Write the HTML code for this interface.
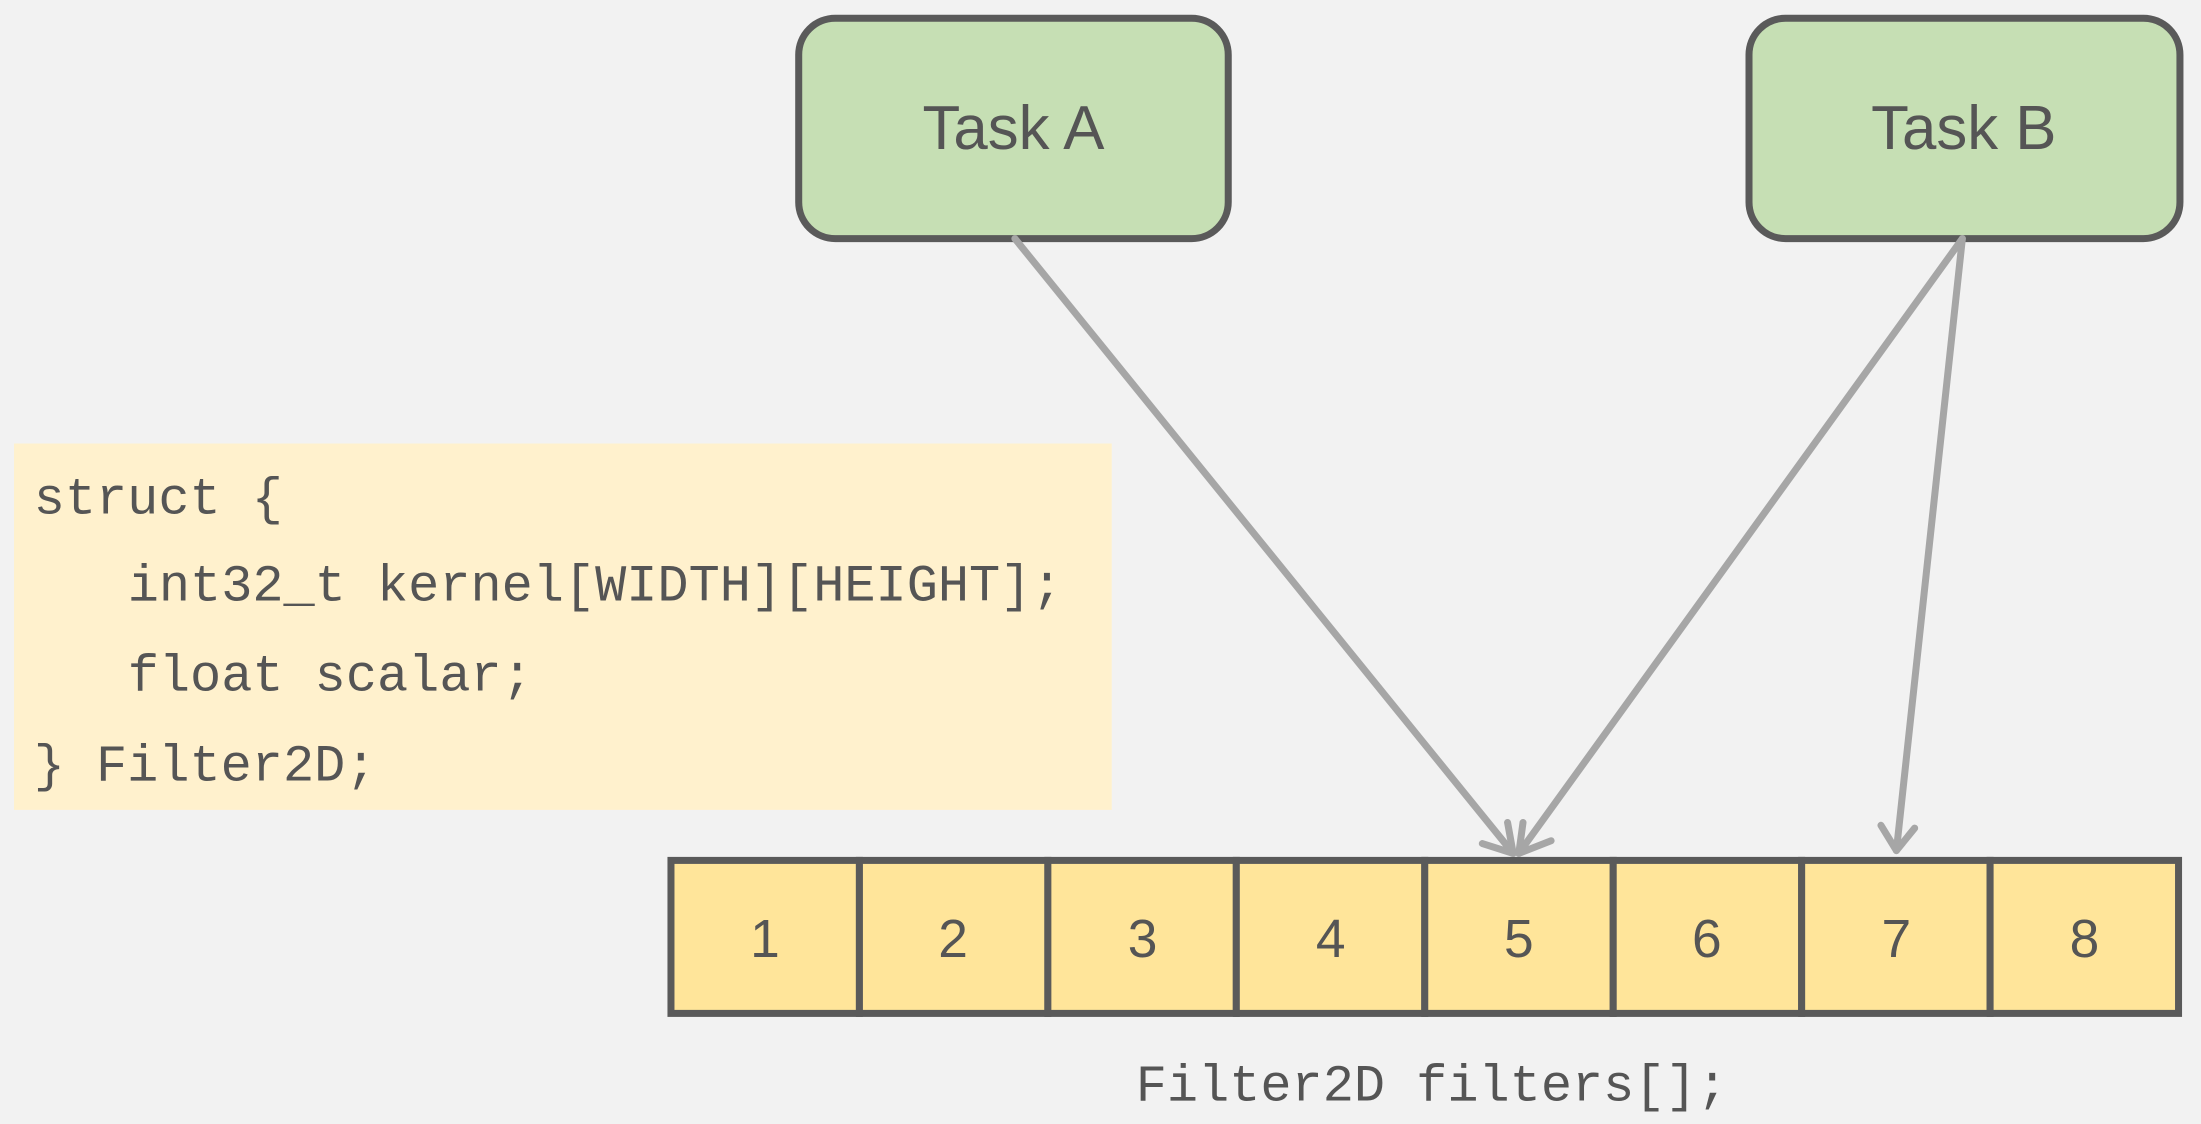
<!DOCTYPE html>
<html><head><style>html,body{margin:0;padding:0;background:#f2f2f2;}svg{display:block}</style></head>
<body>
<svg width="2201" height="1124" viewBox="0 0 1568 800.8" preserveAspectRatio="none" xmlns="http://www.w3.org/2000/svg">
<rect x="0" y="0" width="1568" height="801" fill="#f2f2f2"/>
<rect x="569" y="13" width="306" height="157" rx="26" fill="#c6dfb4" stroke="#5a5a5a" stroke-width="5"/>
<text x="722" y="106" text-anchor="middle" font-family="Liberation Sans, sans-serif" font-size="44" fill="#555">Task A</text>
<rect x="1246" y="13" width="307" height="157" rx="26" fill="#c6dfb4" stroke="#5a5a5a" stroke-width="5"/>
<text x="1399" y="106" text-anchor="middle" font-family="Liberation Sans, sans-serif" font-size="44" fill="#555">Task B</text>
<rect x="10" y="316" width="782" height="261" fill="#fff1cd"/>
<g font-family="Liberation Mono, monospace" font-size="37" fill="#555">
<text x="24" y="366">struct {</text>
<text x="91" y="428">int32_t kernel[WIDTH][HEIGHT];</text>
<text x="91" y="492">float scalar;</text>
<text x="24" y="556">} Filter2D;</text>
<text x="1020" y="784" text-anchor="middle">Filter2D filters[];</text>
</g>
<g stroke="#5a5a5a" stroke-width="5" fill="#ffe59a">
<rect x="478" y="613" width="134.25" height="109"/>
<rect x="612.25" y="613" width="134.25" height="109"/>
<rect x="746.5" y="613" width="134.25" height="109"/>
<rect x="880.75" y="613" width="134.25" height="109"/>
<rect x="1015" y="613" width="134.25" height="109"/>
<rect x="1149.25" y="613" width="134.25" height="109"/>
<rect x="1283.5" y="613" width="134.25" height="109"/>
<rect x="1417.75" y="613" width="134.25" height="109"/>
</g>
<g font-family="Liberation Sans, sans-serif" font-size="38" fill="#555" text-anchor="middle">
<text x="545" y="682">1</text><text x="679" y="682">2</text><text x="814" y="682">3</text><text x="948" y="682">4</text>
<text x="1082" y="682">5</text><text x="1216" y="682">6</text><text x="1351" y="682">7</text><text x="1485" y="682">8</text>
</g>
<g stroke="#a6a6a6" stroke-width="5" fill="none" stroke-linecap="round" stroke-linejoin="round">
<line x1="723" y1="170" x2="1078" y2="608"/>
<polyline points="1056,601 1078,608 1074,586"/>
<line x1="1398" y1="170" x2="1082" y2="608"/>
<polyline points="1085,586 1082,608 1105,599"/>
<line x1="1398" y1="170" x2="1351" y2="606"/>
<polyline points="1340,588 1351,606 1364,590"/>
</g>
</svg>
</body></html>
